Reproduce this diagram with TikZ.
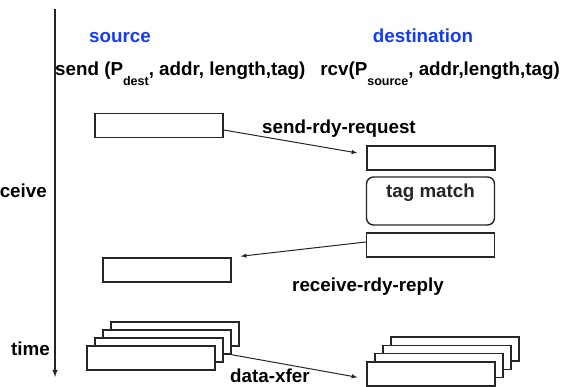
\documentclass[tikz,border=0pt]{standalone}
\usepackage{fontspec}
\setmainfont{Liberation Sans}
\usetikzlibrary{arrows}
\definecolor{headblue}{RGB}{20,60,245}
\newcommand\lowtxt[1]{\raisebox{-10pt}{\fontsize{12.5}{12.5}\selectfont #1}}

\begin{document}
\begin{tikzpicture}[x=1pt,y=-1pt,draw/.append style={line width=1.4pt,black!85},
    msgbox/.style={draw,fill=white,minimum width=128pt,minimum height=24pt,inner sep=0pt},
    lbl/.style={inner sep=0pt,font=\fontsize{18.8}{20}\selectfont\bfseries},
    arr/.style={-latex,line width=1pt,shorten >=9pt}]
    \useasboundingbox (0,0) rectangle (563,387);
    % time axis
    \coordinate (ttop) at (55,9);
    \coordinate (tbot) at (55,377);
    \draw[-latex] (ttop) -- (tbot);
    \node[lbl,anchor=base east] (rcvlbl) at (47,198) {ceive};
    \node[lbl,anchor=base east] (timelbl) at (50,356) {time};
    % headings
    \node[lbl,headblue,anchor=base] (src) at (120,43) {source};
    \node[lbl,headblue,anchor=base] (dst) at (423,43) {destination};
    \node[lbl,anchor=base west] (sendcall) at (55,76) {send (P\lowtxt{dest}, addr, length,tag)};
    \node[lbl,anchor=base east] (rcvcall) at (560,76) {rcv(P\lowtxt{source}, addr,length,tag)};
    % handshake
    \node[msgbox] (srcreq) at (159,125.5) {};
    \node[msgbox] (dstreq) at (431,158) {};
    \node[msgbox,lbl,rounded corners=7pt,minimum height=48pt,inner sep=3pt,
          text height=18pt,text depth=24pt] (tagmatch) at (430.5,201) {tag match};
    \node[msgbox] (dstreply) at (430.5,245) {};
    \node[msgbox] (srcreply) at (167,270) {};
    % data packets
    \foreach \i in {0,...,3}
        \node[msgbox] (srcdata\i) at (175-8*\i,334+8*\i) {};
    \foreach \i in {0,...,3}
        \node[msgbox] (dstdata\i) at (455-8*\i,349+8.3*\i) {};
    \draw[arr] ([yshift=-4.5pt]srcreq.east) -- ([yshift=3.5pt]dstreq.west);
    \draw[arr] ([yshift=3pt]dstreply.west) -- (srcreply.north east);
    \draw[arr] (srcdata1.south east) -- ([yshift=-5pt]dstdata3.west);
    \node[lbl,anchor=base west] (reqlbl) at (262,134) {send-rdy-request};
    \node[lbl,anchor=base west] (replbl) at (292,292) {receive-rdy-reply};
    \node[lbl,anchor=base west] (xferlbl) at (230,383) {data-xfer};
\end{tikzpicture}
\end{document}
